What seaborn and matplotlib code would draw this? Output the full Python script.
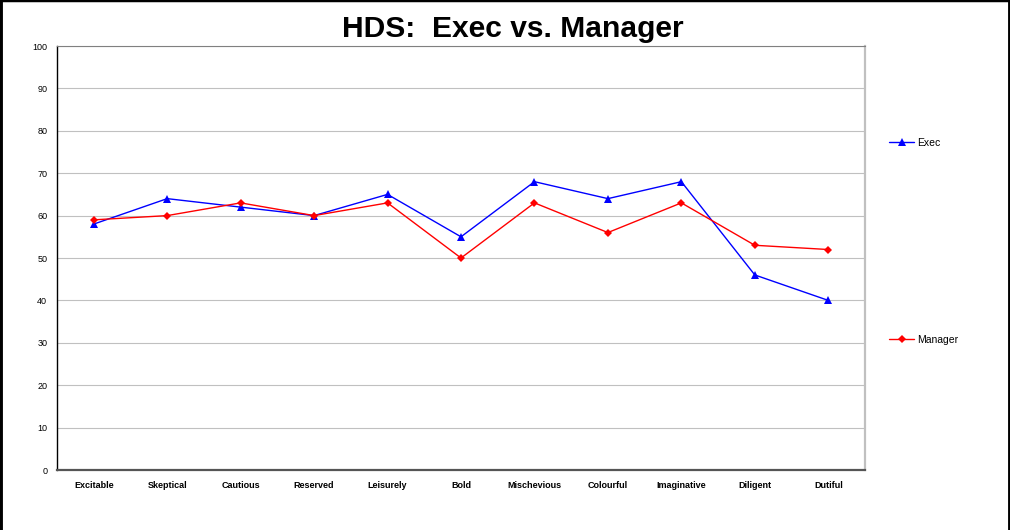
import matplotlib
matplotlib.use("Agg")
import matplotlib.pyplot as plt
from matplotlib.lines import Line2D
import pandas as pd
import seaborn as sns

categories = ["Excitable", "Skeptical", "Cautious", "Reserved", "Leisurely", "Bold",
              "Mischevious", "Colourful", "Imaginative", "Diligent", "Dutiful"]
exec_scores = [58, 64, 62, 60, 65, 55, 68, 64, 68, 46, 40]
manager_scores = [59, 60, 63, 60, 63, 50, 63, 56, 63, 53, 52]

df = pd.concat([
    pd.DataFrame({"pos": range(len(categories)), "score": exec_scores, "series": "Exec"}),
    pd.DataFrame({"pos": range(len(categories)), "score": manager_scores, "series": "Manager"}),
])

sns.set_theme(style="white")
plt.rcParams["font.family"] = ["Liberation Sans", "DejaVu Sans"]
plt.rcParams["text.color"] = "black"
plt.rcParams["xtick.color"] = "black"
plt.rcParams["ytick.color"] = "black"

colors = {"Exec": "#0000ff", "Manager": "#ff0000"}
markers = {"Exec": "^", "Manager": "D"}
msizes = {"Exec": 6, "Manager": 4}

fig = plt.figure(figsize=(10.1, 5.3), dpi=100)
ax = fig.add_axes([57 / 1010, 1 - 470 / 530, 808 / 1010, 424 / 530])

for name in ["Exec", "Manager"]:
    sns.lineplot(data=df[df["series"] == name], x="pos", y="score", color=colors[name],
                 marker=markers[name], linewidth=1, markersize=msizes[name],
                 markeredgewidth=0, ax=ax, legend=False)

ax.set_xlim(-0.5, len(categories) - 0.5)
ax.set_ylim(0, 100)
ax.set_yticks(range(0, 101, 10))
ax.set_xticks([i - 0.5 for i in range(len(categories) + 1)])
ax.set_xticklabels([])
ax.set_xticks(range(len(categories)), minor=True)
ax.set_xticklabels(categories, minor=True, fontsize=6.5, fontweight="bold")
ax.tick_params(axis="x", which="major", length=4, width=1, color="#333333", direction="out")
ax.tick_params(axis="x", which="minor", length=0, pad=8)
ax.tick_params(axis="y", length=4, width=1, color="#333333", labelsize=6.5, pad=3)
ax.set_xlabel("")
ax.set_ylabel("")
ax.grid(axis="y", color="#c0c0c0", linewidth=0.8)
ax.set_axisbelow(True)

ax.spines["left"].set_color("black")
ax.spines["left"].set_linewidth(1)
ax.spines["bottom"].set_color("#555555")
ax.spines["bottom"].set_linewidth(1.6)
ax.spines["top"].set_color("#808080")
ax.spines["top"].set_linewidth(0.8)
ax.spines["right"].set_color("#c0c0c0")
ax.spines["right"].set_linewidth(1.6)

# black frame on left, top and right edges of the picture
for xs, ys, lw in [([0, 0], [0, 1], 3.5), ([0, 1], [1, 1], 2.5), ([1, 1], [0, 1], 3.5)]:
    fig.add_artist(Line2D(xs, ys, transform=fig.transFigure, color="black", linewidth=lw))

fig.text(513 / 1010, 1 - 29 / 530, "HDS:  Exec vs. Manager", ha="center", va="center",
         fontsize=21.6, fontweight="bold")

for name, ypix in [("Exec", 143), ("Manager", 340)]:
    handle = Line2D([], [], color=colors[name], marker=markers[name], linewidth=1,
                    markersize=msizes[name], markeredgewidth=0)
    fig.legend(handles=[handle], labels=[name], loc="center left",
               bbox_to_anchor=(889 / 1010, 1 - ypix / 530), frameon=False,
               fontsize=7.5, handlelength=2.4, handletextpad=0.3, borderpad=0, borderaxespad=0)

fig.savefig("out.png", dpi=100)
